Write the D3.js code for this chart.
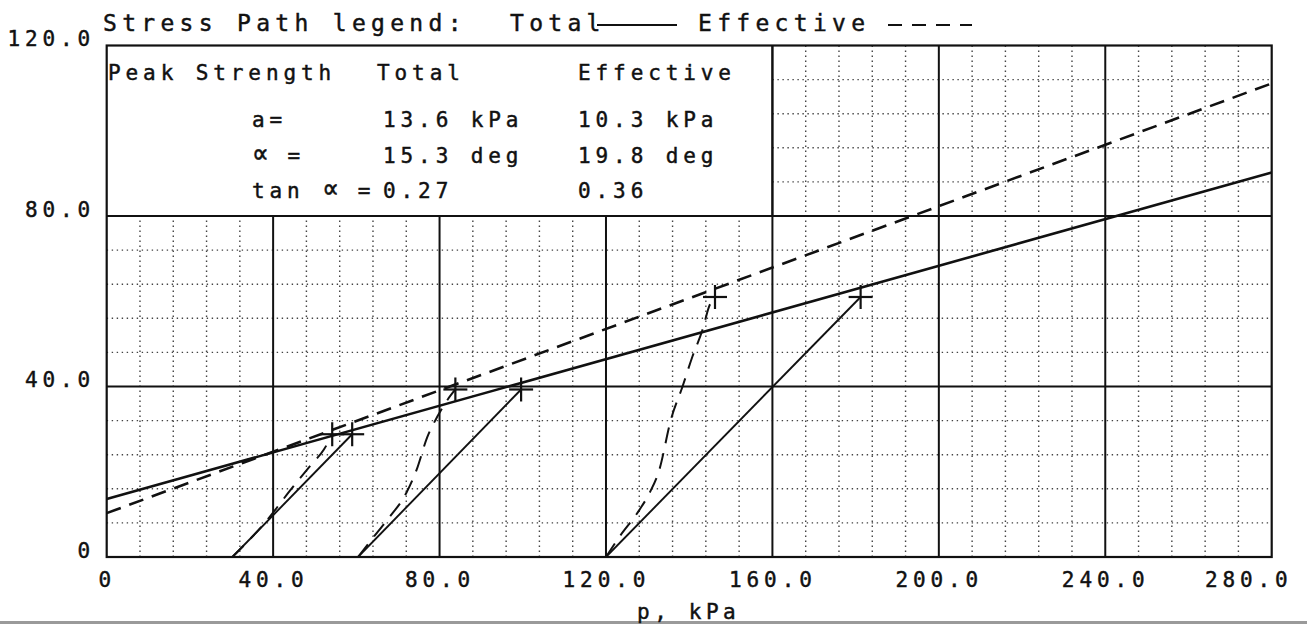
<!DOCTYPE html>
<html>
<head>
<meta charset="utf-8">
<script src="https://cdn.jsdelivr.net/npm/d3@7"></script>
<style>
  html, body { margin: 0; padding: 0; background: #fff; }
  svg { display: block; }
  text { font-family: "DejaVu Sans Mono", "Liberation Mono", monospace; fill: #111; stroke: #111; stroke-width: 0.45px; }
</style>
</head>
<body>
<svg id="chart" width="1307" height="627"></svg>
<script>
// ---- data -------------------------------------------------------------
const pTicks = [0, 40, 80, 120, 160, 200, 240, 280];
const pTickLabels = ["0", "40.0", "80.0", "120.0", "160.0", "200.0", "240.0", "280.0"];
const qTicks = [0, 40, 80, 120];
const qTickLabels = ["0", "40.0", "80.0", "120.0"];
const minorStep = 8;

// failure envelopes: q = a + p * tan(alpha)
const envelopeNames = ["Total", "Effective"];
const envelopeA = [13.6, 10.3];          // kPa
const envelopeAlpha = [15.3, 19.8];      // deg
const envelopeTan = ["0.27", "0.36"];

// total stress paths: start on q = 0, straight to peak
const totalStart = [30.2, 60.4, 120.0];
const totalPeakP = [59.0, 99.6, 181.2];
const totalPeakQ = [28.8, 39.3, 61.0];

// effective stress paths (p, q) pairs
const effPath1 = [[30.2, 0], [38.5, 8.6], [44.0, 15.5], [49.0, 21.5], [52.2, 25.2], [54.2, 28.8]];
const effPath2 = [[60.4, 0], [64.8, 5.5], [68.0, 9.4], [72.0, 15.0], [74.5, 20.5], [77.0, 28.0], [79.5, 33.0], [82.0, 37.0], [83.8, 39.3]];
const effPath3 = [[120.0, 0], [123.2, 4.7], [128.0, 11.0], [130.4, 14.9], [132.8, 20.4], [135.6, 32.2], [138.4, 40.0], [140.8, 47.1], [143.2, 53.3], [144.8, 58.8], [146.2, 61.0]];
const effectivePaths = [effPath1, effPath2, effPath3];

// text block region (no grid drawn inside)
const boxP = [0, 160];
const boxQ = [80, 120];

// ---- setup ------------------------------------------------------------
const svg = d3.select("#chart");
const x = d3.scaleLinear().domain([0, 280]).range([106.7, 1271.7]);
const y = d3.scaleLinear().domain([0, 120]).range([557, 45.5]);

const BLACK = "#111";
const DASH = "15,9";

// scanned page edge
svg.append("rect").attr("x", 0).attr("y", 621).attr("width", 1307).attr("height", 3)
  .attr("fill", "#9a9a9a");

const gGrid = svg.append("g");

// minor dotted grid
const minorP = d3.range(minorStep, 280, minorStep).filter(v => v % 40 !== 0);
const minorQ = d3.range(minorStep, 120, minorStep).filter(v => v % 40 !== 0);

gGrid.selectAll("line.mpx").data(minorP).join("line")
  .attr("x1", d => x(d)).attr("x2", d => x(d))
  .attr("y1", y(0))
  .attr("y2", d => (d < boxP[1] ? y(boxQ[0]) : y(120)))
  .attr("stroke", "#444").attr("stroke-width", 1.4)
  .attr("stroke-dasharray", "1.4,3.6");

gGrid.selectAll("line.mqy").data(minorQ).join("line")
  .attr("y1", d => y(d)).attr("y2", d => y(d))
  .attr("x1", d => (d > boxQ[0] ? x(boxP[1]) : x(0)))
  .attr("x2", x(280))
  .attr("stroke", "#444").attr("stroke-width", 1.4)
  .attr("stroke-dasharray", "1.4,3.6");

// major solid grid
gGrid.selectAll("line.Mpx").data(pTicks.filter(v => v > 0 && v < 280)).join("line")
  .attr("x1", d => x(d)).attr("x2", d => x(d))
  .attr("y1", y(0))
  .attr("y2", d => (d < boxP[1] ? y(boxQ[0]) : y(120)))
  .attr("stroke", BLACK).attr("stroke-width", 2);

gGrid.selectAll("line.Mqy").data(qTicks.filter(v => v > 0 && v < 120)).join("line")
  .attr("y1", d => y(d)).attr("y2", d => y(d))
  .attr("x1", x(0)).attr("x2", x(280))
  .attr("stroke", BLACK).attr("stroke-width", 2);

// text block right edge
gGrid.append("line")
  .attr("x1", x(boxP[1])).attr("x2", x(boxP[1]))
  .attr("y1", y(boxQ[0])).attr("y2", y(boxQ[1]))
  .attr("stroke", BLACK).attr("stroke-width", 2);

// frame
svg.append("rect")
  .attr("x", x(0)).attr("y", y(120))
  .attr("width", x(280) - x(0)).attr("height", y(0) - y(120))
  .attr("fill", "none").attr("stroke", BLACK).attr("stroke-width", 2.2);

// ---- envelopes --------------------------------------------------------
const gData = svg.append("g");
svg.append("clipPath").attr("id", "plotclip").append("rect")
  .attr("x", x(0)).attr("y", y(120)).attr("width", x(280) - x(0)).attr("height", y(0) - y(120));
gData.attr("clip-path", "url(#plotclip)");

const line = d3.line().x(d => x(d[0])).y(d => y(d[1]));

envelopeNames.forEach((name, i) => {
  const t = Math.tan(envelopeAlpha[i] * Math.PI / 180);
  const pts = [[0, envelopeA[i]], [280, envelopeA[i] + 280 * t]];
  gData.append("path").attr("d", line(pts))
    .attr("fill", "none").attr("stroke", BLACK).attr("stroke-width", 2.6)
    .attr("stroke-dasharray", name === "Effective" ? DASH : null);
});

// ---- stress paths -----------------------------------------------------
totalStart.forEach((p0, i) => {
  gData.append("path").attr("d", line([[p0, 0], [totalPeakP[i], totalPeakQ[i]]]))
    .attr("fill", "none").attr("stroke", BLACK).attr("stroke-width", 1.9);
});

const smooth = d3.line().x(d => x(d[0])).y(d => y(d[1])).curve(d3.curveMonotoneX);
effectivePaths.forEach(pts => {
  gData.append("path").attr("d", smooth(pts))
    .attr("fill", "none").attr("stroke", BLACK).attr("stroke-width", 2)
    .attr("stroke-dasharray", "16,10");
});

// peak markers
const peaks = totalPeakP.map((p, i) => [p, totalPeakQ[i]])
  .concat(effectivePaths.map(pts => pts[pts.length - 1]));
const arm = 12;
peaks.forEach(d => {
  const cx = x(d[0]), cy = y(d[1]);
  gData.append("line").attr("x1", cx - arm).attr("x2", cx + arm).attr("y1", cy).attr("y2", cy)
    .attr("stroke", BLACK).attr("stroke-width", 2.2);
  gData.append("line").attr("x1", cx).attr("x2", cx).attr("y1", cy - arm).attr("y2", cy + arm)
    .attr("stroke", BLACK).attr("stroke-width", 2.2);
});

// ---- axes -------------------------------------------------------------
const LS = 4.9;
const xAxis = d3.axisBottom(x).tickValues(pTicks)
  .tickFormat((d, i) => pTickLabels[i]).tickSize(0);
const gx = svg.append("g").attr("transform", `translate(0,${y(0)})`).call(xAxis);
gx.select(".domain").remove();
gx.selectAll("text")
  .attr("y", 30).attr("dy", 0)
  .attr("font-size", 21).attr("letter-spacing", LS)
  .attr("font-family", "DejaVu Sans Mono").attr("fill", "#111")
  .attr("dx", LS / 2 - 2.5);
gx.selectAll(".tick").filter(d => d === 280).select("text")
  .attr("text-anchor", "end").attr("dx", 15.5 + LS);

const yAxis = d3.axisLeft(y).tickValues(qTicks)
  .tickFormat((d, i) => qTickLabels[i]).tickSize(0);
const gy = svg.append("g").attr("transform", `translate(${x(0)},0)`).call(yAxis);
gy.select(".domain").remove();
gy.selectAll("text")
  .attr("x", -16.5 + LS).attr("dy", 0)
  .attr("font-size", 21).attr("letter-spacing", LS)
  .attr("font-family", "DejaVu Sans Mono").attr("fill", "#111");

svg.append("text").attr("x", (x(0) + x(280)) / 2 - 3 + LS / 2).attr("y", 619)
  .attr("text-anchor", "middle").attr("font-size", 21).attr("letter-spacing", 4.6)
  .text("p, kPa");

// ---- legend header ----------------------------------------------------
const HLS = 5.3;
const header = svg.append("g").attr("font-size", 23).attr("letter-spacing", HLS);
header.append("text").attr("x", 103).attr("y", 31).text("Stress Path legend:");
header.append("text").attr("x", 510).attr("y", 31).text(envelopeNames[0]);
header.append("text").attr("x", 698).attr("y", 31).text(envelopeNames[1]);
svg.append("line").attr("x1", 597).attr("x2", 677).attr("y1", 25).attr("y2", 25)
  .attr("stroke", BLACK).attr("stroke-width", 2);
svg.append("line").attr("x1", 888).attr("x2", 972).attr("y1", 25).attr("y2", 25)
  .attr("stroke", BLACK).attr("stroke-width", 2.2).attr("stroke-dasharray", "14,10");

// ---- strength summary block --------------------------------------------
const block = svg.append("g").attr("font-size", 21).attr("letter-spacing", LS);
const colLabel = 252, colTotal = 383, colEff = 578;
const rowY = [80, 127, 163, 198];
block.append("text").attr("x", 108).attr("y", rowY[0]).text("Peak Strength");
block.append("text").attr("x", 377).attr("y", rowY[0]).text(envelopeNames[0]);
block.append("text").attr("x", colEff).attr("y", rowY[0]).text(envelopeNames[1]);

// row labels as [before, symbol, after]
const rowLabels = [["a=", "", ""], ["", "\u221D", " ="], ["tan ", "\u221D", " ="]];
const totalVals = [`${envelopeA[0]} kPa`, `${envelopeAlpha[0]} deg`, envelopeTan[0]];
const effVals = [`${envelopeA[1]} kPa`, `${envelopeAlpha[1]} deg`, envelopeTan[1]];
rowLabels.forEach((parts, i) => {
  const t = block.append("text").attr("x", colLabel).attr("y", rowY[i + 1]);
  if (parts[0]) t.append("tspan").text(parts[0]);
  if (parts[1]) t.append("tspan").attr("font-size", 28).attr("letter-spacing", 1.2).text(parts[1]);
  if (parts[2]) t.append("tspan").text(parts[2]);
  block.append("text").attr("x", colTotal).attr("y", rowY[i + 1]).text(totalVals[i]);
  block.append("text").attr("x", colEff).attr("y", rowY[i + 1]).text(effVals[i]);
});
</script>
</body>
</html>
